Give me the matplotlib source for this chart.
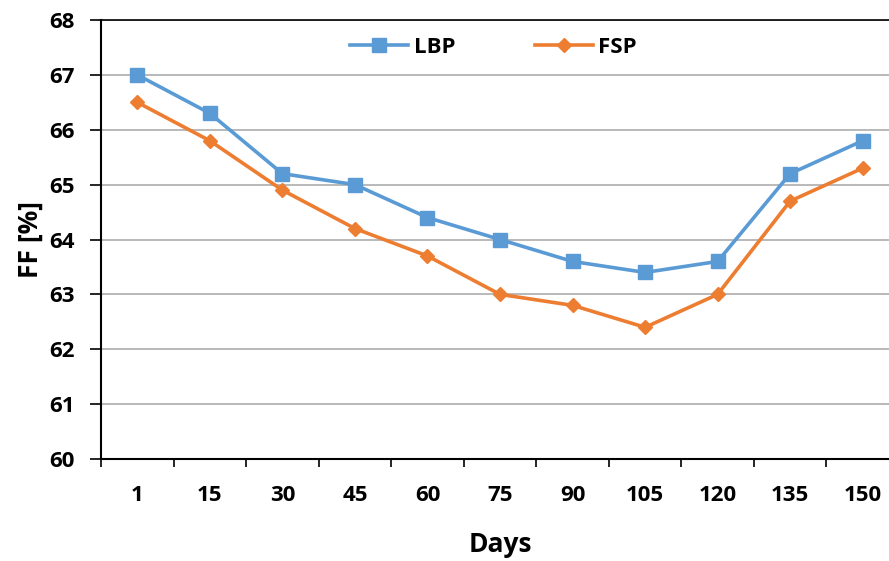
import numpy as np
import matplotlib.pyplot as plt

days = ['1', '15', '30', '45', '60', '75', '90', '105', '120', '135', '150']
lbp = [67.0, 66.3, 65.2, 65.0, 64.4, 64.0, 63.6, 63.4, 63.6, 65.2, 65.8]
fsp = [66.5, 65.8, 64.9, 64.2, 63.7, 63.0, 62.8, 62.4, 63.0, 64.7, 65.3]

plt.rcParams['font.family'] = ['Open Sans', 'DejaVu Sans']
plt.rcParams['font.weight'] = 'bold'

fig = plt.figure(figsize=(8.89, 5.61), dpi=100)
ax = fig.add_axes([101/889, 1 - 459/561, 798/889, 439/561])

x = np.arange(len(days))
ax.plot(x, lbp, color='#5B9BD5', lw=2.6, marker='s', ms=10, label='LBP', zorder=3)
ax.plot(x, fsp, color='#ED7D31', lw=2.6, marker='D', ms=7.5, label='FSP', zorder=3)

ax.set_xlim(-0.5, len(days) - 0.5)
ax.set_ylim(60, 68)
ax.set_yticks(np.arange(60, 69, 1))
ax.set_xticks(x)
ax.set_xticklabels(days)
ax.set_xticks(np.arange(-0.5, len(days), 1), minor=True)
ax.tick_params(axis='x', which='major', length=0, pad=19, labelsize=16)
ax.tick_params(axis='x', which='minor', length=6, width=1.2, direction='out')
ax.tick_params(axis='y', length=8, width=1.2, direction='out', pad=11, labelsize=16)

ax.grid(axis='y', color='#A6A6A6', lw=1.1, zorder=0)
ax.set_axisbelow(True)
for s in ['left', 'bottom']:
    ax.spines[s].set_linewidth(1.5)
ax.spines['top'].set_linewidth(1.2)
ax.spines['right'].set_visible(False)

ax.set_xlabel('Days', fontsize=19, fontweight='bold', labelpad=18)
ax.set_ylabel('FF [%]', fontsize=19, fontweight='bold', labelpad=4)

ax.legend(loc='upper center', bbox_to_anchor=(0.492, 1.007), ncol=2, frameon=False,
          fontsize=16, handlelength=2.6, columnspacing=3.6, handletextpad=0.25)

fig.savefig('out.png', dpi=100)
